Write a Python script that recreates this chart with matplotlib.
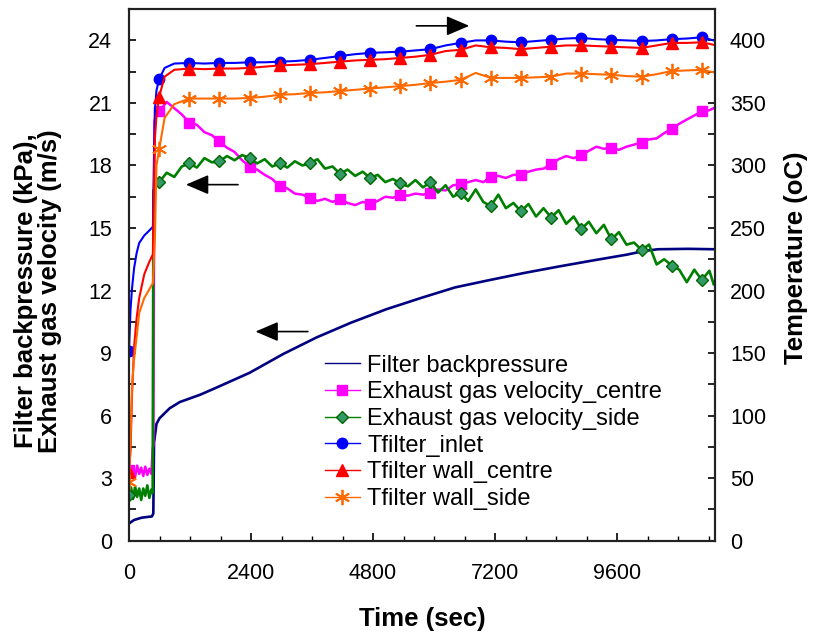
import matplotlib
matplotlib.use("Agg")
import matplotlib.pyplot as plt
from matplotlib.ticker import MultipleLocator

plt.rcParams['font.family'] = ['Liberation Sans', 'DejaVu Sans']

# filter backpressure (kPa), left axis
t_p = [0, 100, 250, 450, 478, 492, 540, 600, 800, 1000, 1400, 1700, 2370, 3030,
       3690, 4360, 5060, 5740, 6415, 7090, 7770, 8450, 9120, 9790, 10140, 10400,
       11000, 11500]
p = [0.82, 0.99, 1.10, 1.16, 1.30, 4.70, 5.60, 5.87, 6.35, 6.65, 7.00, 7.32, 8.05, 8.95,
     9.75, 10.45, 11.10, 11.64, 12.15, 12.50, 12.84, 13.15, 13.44, 13.72, 13.90, 13.98,
     14.00, 13.98]

# exhaust gas velocity (m/s), left axis
t_v = [0, 40, 80, 120, 160, 200, 240, 280, 320, 360, 400, 440, 465, 480, 500, 540,
       593, 741, 890, 1038, 1186, 1334, 1483, 1631, 1779, 1927,
       2076, 2224, 2372, 2520, 2669, 2817, 2965, 3113, 3262, 3410,
       3558, 3706, 3855, 4003, 4151, 4299, 4448, 4596, 4744, 4892,
       5041, 5189, 5337, 5485, 5634, 5782, 5930, 6078, 6227, 6375,
       6523, 6671, 6820, 6968, 7116, 7264, 7413, 7561, 7709, 7857,
       8006, 8154, 8302, 8450, 8599, 8747, 8895, 9043, 9192, 9340,
       9488, 9636, 9785, 9933, 10081, 10229, 10378, 10526, 10674, 10822,
       10971, 11119, 11267, 11415, 11500]
v_centre = [3.4, 3.1, 3.5, 3.05, 3.6, 3.2, 3.5, 3.1, 3.55, 3.15, 3.45, 3.2, 4.4, 4.6, 20.1, 20.7,
            20.6, 21.05, 20.75, 20.45, 20.05, 19.95, 19.6, 19.45, 19.15, 18.85,
            18.65, 18.25, 17.95, 17.8, 17.55, 17.35, 17.0, 16.9, 16.65, 16.6,
            16.45, 16.3, 16.4, 16.25, 16.4, 16.2, 16.1, 16.25, 16.15, 16.3,
            16.5, 16.45, 16.6, 16.55, 16.65, 16.6, 16.7, 16.85, 16.8, 17.05,
            17.1, 17.2, 17.3, 17.2, 17.45, 17.5, 17.4, 17.55, 17.55, 17.7,
            17.8, 17.85, 18.05, 18.3, 18.45, 18.35, 18.5, 18.7, 18.9, 18.8,
            18.85, 18.75, 18.9, 19.0, 19.1, 19.25, 19.3, 19.55, 19.75, 20.0,
            20.2, 20.4, 20.6, 20.65, 20.75]
v_side = [2.2, 2.55, 2.0, 2.6, 2.1, 2.5, 1.95, 2.5, 2.15, 2.65, 2.05, 2.45, 2.3, 16.8, 16.9, 17.1,
          17.2, 17.65, 17.45, 17.95, 18.1, 17.9, 18.35, 18.15, 18.2, 18.45,
          18.25, 18.5, 18.35, 18.1, 18.3, 17.95, 18.1, 17.9, 18.2, 18.0,
          18.1, 18.3, 17.85, 17.95, 17.6, 17.8, 17.5, 17.7, 17.4, 17.55,
          17.2, 17.35, 17.15, 17.0, 17.3, 16.95, 17.2, 16.7, 17.05, 16.5,
          16.7, 16.3, 16.85, 16.25, 16.05, 16.6, 15.95, 16.2, 15.8, 16.15,
          15.55, 15.95, 15.5, 15.85, 15.2, 15.55, 14.95, 15.3, 14.75, 15.15,
          14.45, 14.8, 14.2, 14.3, 13.95, 14.2, 13.25, 13.5, 13.2, 13.0,
          12.4, 13.0, 12.5, 12.95, 12.3]

# temperatures (oC), right axis
t_T = [0, 30, 60, 100, 150, 200, 300, 400, 470, 490, 510, 540, 593, 700, 890,
       1186, 1483, 1779, 2076, 2372, 2669, 2965, 3262, 3558, 3855,
       4151, 4448, 4744, 5041, 5337, 5634, 5930, 6227, 6523, 6820,
       7116, 7413, 7709, 8006, 8302, 8599, 8895, 9192, 9488, 9785,
       10081, 10378, 10674, 10971, 11267, 11500]
T_inlet = [152, 185, 202, 218, 230, 238, 244, 248, 251, 305, 345, 360, 369, 378, 381.5,
           382, 381.5, 382, 382, 382.5, 382.5, 383, 383.5, 384.5, 386,
           387.5, 389, 390, 390.5, 391, 392, 393, 396, 398, 400,
           400, 399, 398.5, 399.5, 400.5, 401.5, 402, 401, 400.5, 400,
           399.5, 400, 401, 401.5, 402.5, 400]
T_centre = [55, 72, 118, 155, 178, 194, 213, 223, 229, 285, 322, 340, 355, 371, 376.5,
            377.5, 377, 377.5, 377.5, 378, 379, 380, 380.5, 381, 382,
            383, 384, 384.5, 385, 386, 387, 388.5, 391.5, 392.5, 396,
            394.5, 394, 393, 394, 395, 396, 396, 395.5, 395, 394.5,
            394, 396, 398, 398, 398.5, 396.5]
T_side = [47, 80, 125, 145, 163, 182, 194, 201, 206, 225, 243, 300, 313, 338, 349,
          353.5, 353.5, 353.5, 353.5, 354, 355, 356.5, 357, 358, 358.5,
          359.5, 360.5, 361.5, 362.5, 363.5, 364.5, 366, 367, 368.5, 374,
          370, 370, 370, 370.5, 371, 373.5, 373.5, 373, 372.5, 371.5,
          371, 373, 375.5, 376, 376.5, 374.5]

# times at which the markers sit
t_marks = [0, 593, 1186, 1779, 2372, 2965, 3558, 4151, 4744, 5337, 5930, 6523,
           7116, 7709, 8302, 8895, 9488, 10081, 10674, 11267]

labels = ['Filter backpressure', 'Exhaust gas velocity_centre',
          'Exhaust gas velocity_side', 'Tfilter_inlet',
          'Tfilter wall_centre', 'Tfilter wall_side']

mark_v = [t_v.index(m) for m in t_marks]
mark_T = [t_T.index(m) for m in t_marks]

fig = plt.figure(figsize=(8.14, 6.36), dpi=100)
ax = fig.add_axes([0.1585, 0.15, 0.7195, 0.8356])
ax2 = ax.twinx()

l1, = ax.plot(t_p, p, color='#000080', lw=1.9, label=labels[0])
l2, = ax.plot(t_v, v_centre, color='#FF00FF', lw=1.8, marker='s', ms=6.5,
              markevery=mark_v, label=labels[1])
l3, = ax.plot(t_v, v_side, color='#008000', lw=1.9, marker='D', ms=6,
              mfc='#339966', mec='#006600', markevery=mark_v, label=labels[2])
l4, = ax2.plot(t_T, T_inlet, color='#0000FF', lw=1.5, marker='o', ms=7.5,
               markevery=mark_T, label=labels[3])
l5, = ax2.plot(t_T, T_centre, color='#FF0000', lw=1.5, marker='^', ms=9,
               markevery=mark_T, label=labels[4])
l6, = ax2.plot(t_T, T_side, color='#FF6A00', lw=1.5, marker=(6, 2, 0), ms=11,
               mew=1.3, markevery=mark_T, label=labels[5])

ax.set_xlim(0, 11520)
ax.set_ylim(0, 25.5)
ax2.set_ylim(0, 425)

ax.set_xticks([0, 2400, 4800, 7200, 9600])
ax.xaxis.set_minor_locator(MultipleLocator(600))
ax.set_yticks(range(0, 25, 3))
ax.yaxis.set_minor_locator(MultipleLocator(1.5))
ax2.set_yticks(range(0, 401, 50))
ax2.yaxis.set_minor_locator(MultipleLocator(25))

ax.tick_params(axis='x', which='major', direction='in', length=6, width=1.2, pad=16, labelsize=15.5)
ax.tick_params(axis='x', which='minor', direction='in', length=3.5, width=1.0)
ax.tick_params(axis='y', which='both', direction='in', length=5, width=1.2, pad=12, labelsize=15.5)
ax2.tick_params(axis='y', which='both', direction='in', length=5, width=1.2, pad=11, labelsize=15.5)

for a in (ax, ax2):
    for s in a.spines.values():
        s.set_linewidth(1.5)
        s.set_color('#222222')

ax.set_xlabel('Time (sec)', fontsize=18.5, fontweight='bold')
ax.xaxis.set_label_coords(0.5, -0.125)
ax.set_ylabel('Filter backpressure (kPa),\nExhaust gas velocity (m/s)',
              fontsize=18.5, fontweight='bold', linespacing=0.98)
ax.yaxis.set_label_coords(-0.115, 0.47)
ax2.set_ylabel('Temperature (oC)', fontsize=18.5, fontweight='bold')
ax2.yaxis.set_label_coords(1.118, 0.532)

# arrows pointing to the axis each group belongs to
arrow_kw = dict(arrowstyle='-|>,head_length=0.7,head_width=0.3', color='k', lw=1.2,
                mutation_scale=20, shrinkA=0, shrinkB=0)
ax.annotate('', xy=(6692, 24.7), xytext=(5652, 24.7), arrowprops=arrow_kw)
ax.annotate('', xy=(1119, 17.08), xytext=(2145, 17.08), arrowprops=arrow_kw)
ax.annotate('', xy=(2487, 10.03), xytext=(3519, 10.03), arrowprops=arrow_kw)

leg = ax2.legend([l1, l2, l3, l4, l5, l6], labels, loc='upper left',
                 bbox_to_anchor=(0.334, 0.35), frameon=False, fontsize=17,
                 borderpad=0, borderaxespad=0, handlelength=1.5,
                 handletextpad=0.3, labelspacing=0.2, numpoints=1)
for ln in leg.get_lines():
    ln.set_linewidth(1.0)

fig.savefig('out.png', dpi=100)
